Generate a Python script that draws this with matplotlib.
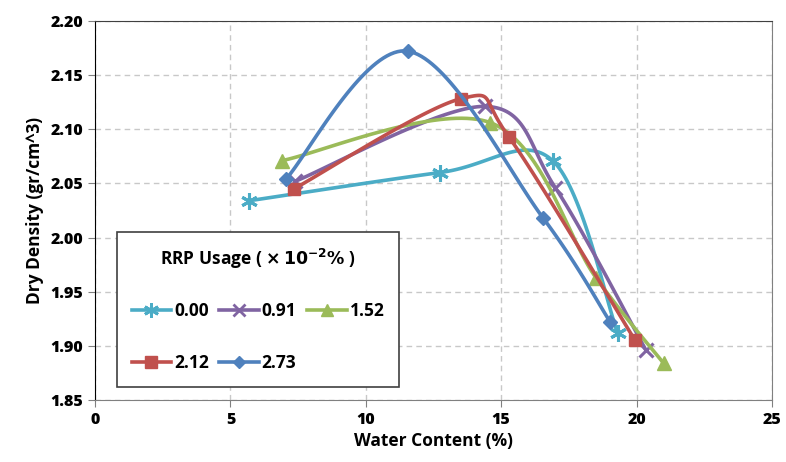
import numpy as np
import matplotlib
matplotlib.use("Agg")
import matplotlib.pyplot as plt
from matplotlib.font_manager import FontProperties

plt.rcParams['font.family'] = ['Open Sans', 'DejaVu Sans']
plt.rcParams['font.weight'] = 'bold'

# RRP usage (x10^-2 %) series: water content (%) vs dry density (gr/cm^3)
labels = ["0.00", "0.91", "1.52", "2.12", "2.73"]
water = [
    [5.7, 12.75, 16.9, 19.3],
    [7.4, 14.4, 17.0, 20.35],
    [6.9, 14.6, 18.5, 21.0],
    [7.35, 13.5, 15.28, 19.95],
    [7.05, 11.55, 16.55, 19.03],
]
density = [
    [2.034, 2.060, 2.071, 1.912],
    [2.052, 2.121, 2.046, 1.896],
    [2.071, 2.106, 1.963, 1.884],
    [2.045, 2.128, 2.093, 1.905],
    [2.054, 2.172, 2.018, 1.922],
]
xticks = [0, 5, 10, 15, 20, 25]
yticks = [1.85, 1.90, 1.95, 2.00, 2.05, 2.10, 2.15, 2.20]
colors = ["#4BACC6", "#8064A2", "#9BBB59", "#C0504D", "#4F81BD"]
markers = [(6, 2, 0), "x", "^", "s", "D"]
msizes = [12, 10, 10, 9, 7]


def smooth(x, y, n=40):
    # Excel-style smoothed line (Catmull-Rom Bezier)
    p = np.column_stack([x, y])
    out = []
    for i in range(len(p) - 1):
        p0 = p[i - 1] if i > 0 else p[i]
        p3 = p[i + 2] if i + 2 < len(p) else p[i + 1]
        c1 = p[i] + (p[i + 1] - p0) / 6
        c2 = p[i + 1] - (p3 - p[i]) / 6
        t = np.linspace(0, 1, n)[:, None]
        seg = ((1 - t) ** 3 * p[i] + 3 * (1 - t) ** 2 * t * c1
               + 3 * (1 - t) * t ** 2 * c2 + t ** 3 * p[i + 1])
        out.append(seg)
    s = np.vstack(out)
    return s[:, 0], s[:, 1]


fig = plt.figure(figsize=(7.86, 4.62), dpi=100)
ax = fig.add_axes([0.121, 0.134, 0.861, 0.821])

for i in range(len(labels)):
    sx, sy = smooth(water[i], density[i])
    ax.plot(sx, sy, color=colors[i], lw=2.6, zorder=3 + i)
    ax.plot(water[i], density[i], linestyle="none", marker=markers[i],
            ms=msizes[i], color=colors[i], mew=2.2 if i < 2 else 1,
            zorder=3 + i)

handles = [plt.Line2D([], [], color=colors[i], lw=2.6, marker=markers[i],
                      ms=msizes[i] * 0.9, mew=2 if i < 2 else 1)
           for i in range(len(labels))]
# legend fills by column; reorder so it reads row by row
order = [0, 3, 1, 4, 2]

tick_font = FontProperties(family=['Open Sans', 'DejaVu Sans'],
                           weight='extra bold', size=11.5)

ax.set_xlim(0, 25)
ax.set_ylim(1.85, 2.20)
ax.set_xticks(xticks)
ax.set_xticklabels([str(v) for v in xticks], fontproperties=tick_font)
ax.set_yticks(yticks)
ax.set_yticklabels(["%.2f" % v for v in yticks], fontproperties=tick_font)
ax.tick_params(direction="out", length=5, color="#808080")
ax.grid(True, linestyle=(0, (4, 3)), color="#c8c8c8", lw=1)
ax.set_axisbelow(True)
for s in ax.spines.values():
    s.set_color("#808080")
ax.spines['left'].set_color("#000000")
ax.spines['top'].set_color("#404040")

ax.set_xlabel("Water Content (%)", fontsize=12.5, fontweight="bold", labelpad=3)
ax.set_ylabel("Dry Density (gr/cm^3)", fontsize=12.5, fontweight="bold", labelpad=5)

leg = ax.legend([handles[k] for k in order], [labels[k] for k in order],
                ncol=3, loc="lower left",
                bbox_to_anchor=(0.032, 0.034), borderaxespad=0,
                title="RRP Usage ( $\\times\\,10^{-2}\\%$ )",
                prop={"size": 12.5, "weight": "bold"},
                title_fontproperties={"size": 12.5, "weight": "bold"},
                handlelength=2.3, handletextpad=0.15, columnspacing=0.6,
                labelspacing=2.0, borderpad=0.85, fancybox=False,
                framealpha=1, edgecolor="#404040")
leg.get_frame().set_linewidth(1.2)
leg._legend_box.sep = 22

fig.savefig("out.png", dpi=100)
